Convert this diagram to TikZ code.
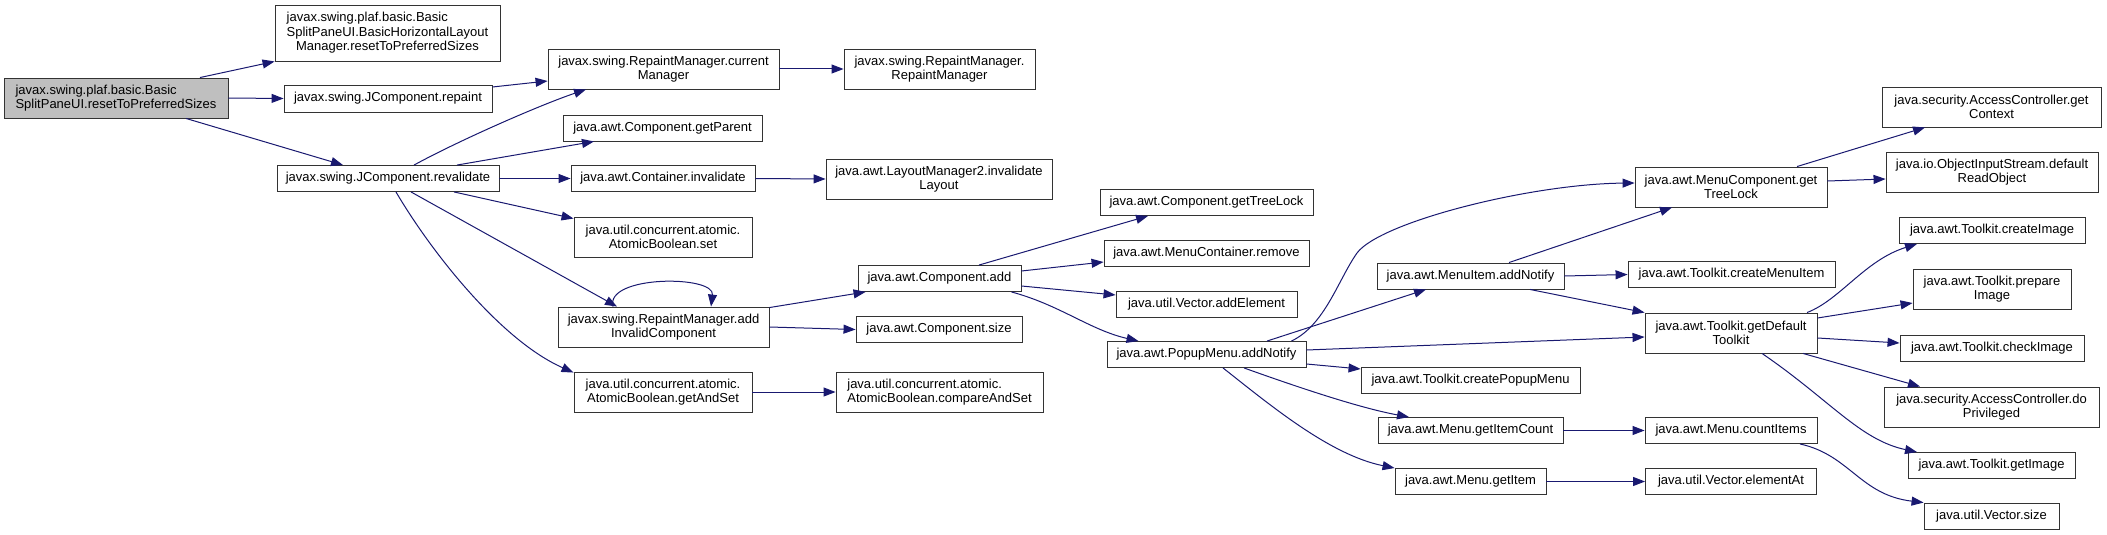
\documentclass[tikz,border=0pt]{standalone}
\usepackage{fontspec}
\setmainfont{Liberation Sans}
\usetikzlibrary{arrows.meta}
\definecolor{xanhdam}{HTML}{191970}
\definecolor{xamgoc}{HTML}{BFBFBF}
\tikzset{
    ham/.style={draw=black!80, line width=0.9pt, fill=white, align=center, inner sep=2pt,
        font=\fontsize{13}{14.5}\selectfont},
    hamgoc/.style={ham, fill=xamgoc, align=left},
    kt/.style 2 args={minimum width=#1pt, minimum height=#2pt},
    goi/.style={draw=xanhdam, line width=1pt, -{Triangle[length=12pt,width=9pt]}}
}
\begin{document}
\begin{tikzpicture}[x=1pt, y=-1pt]
    \useasboundingbox (0,0) rectangle (2107,535);

    % ==================== CÁC HÀM (CỘT 1 - 4) ====================
    \node[hamgoc, kt={224}{40}] (goc) at (116,98) {javax.swing.plaf.basic.Basic\\SplitPaneUI.resetToPreferredSizes};
    \node[ham, kt={225}{56}] (ngang) at (387.5,33) {\rlap{javax.swing.plaf.basic.Basic}\phantom{SplitPaneUI.BasicHorizontalLayout}\\SplitPaneUI.BasicHorizontalLayout\\Manager.resetToPreferredSizes};
    \node[ham, kt={208}{27}] (repaint) at (388,98.5) {javax.swing.JComponent.repaint};
    \node[ham, kt={222}{26}] (revalidate) at (388,178.5) {javax.swing.JComponent.revalidate};

    \node[ham, kt={231}{40}] (curman) at (663.5,69) {javax.swing.RepaintManager.current\\Manager};
    \node[ham, kt={199}{26}] (getparent) at (662.5,128) {java.awt.Component.getParent};
    \node[ham, kt={184}{26}] (cinval) at (663,178.5) {java.awt.Container.invalidate};
    \node[ham, kt={178}{40}] (abset) at (663,237) {java.util.concurrent.atomic.\\AtomicBoolean.set};
    \node[ham, kt={211}{40}] (addinv) at (663.5,327) {javax.swing.RepaintManager.add\\InvalidComponent};
    \node[ham, kt={178}{40}] (abgetset) at (663,392) {java.util.concurrent.atomic.\\AtomicBoolean.getAndSet};

    \node[ham, kt={191}{40}] (rmctor) at (939.5,69) {javax.swing.RepaintManager.\\RepaintManager};
    \node[ham, kt={226}{40}] (lminval) at (939,179) {java.awt.LayoutManager2.invalidate\\Layout};
    \node[ham, kt={163}{26}] (cadd) at (939.5,278.5) {java.awt.Component.add};
    \node[ham, kt={166}{26}] (csize) at (939,329.5) {java.awt.Component.size};
    \node[ham, kt={207}{40}, align=left] (abcas) at (939.5,392) {java.util.concurrent.atomic.\\AtomicBoolean.compareAndSet};

    % ==================== CÁC HÀM (CỘT 5 - 8) ====================
    \node[ham, kt={213}{26}] (ctree) at (1206.5,202.5) {java.awt.Component.getTreeLock};
    \node[ham, kt={205}{26}] (mcremove) at (1206.5,253.5) {java.awt.MenuContainer.remove};
    \node[ham, kt={181}{26}] (vaddel) at (1206.5,304) {java.util.Vector.addElement};
    \node[ham, kt={199}{26}] (popnotify) at (1206.5,354.5) {java.awt.PopupMenu.addNotify};

    \node[ham, kt={187}{26}] (minotify) at (1470.5,276) {java.awt.MenuItem.addNotify};
    \node[ham, kt={219}{26}] (crpopup) at (1470.5,380) {java.awt.Toolkit.createPopupMenu};
    \node[ham, kt={185}{26}] (itemcount) at (1470.5,430.5) {java.awt.Menu.getItemCount};
    \node[ham, kt={151}{26}] (getitem) at (1470.5,481.5) {java.awt.Menu.getItem};

    \node[ham, kt={192}{40}] (mctree) at (1731,187) {java.awt.MenuComponent.get\\TreeLock};
    \node[ham, kt={207}{26}] (crmitem) at (1731.5,274.5) {java.awt.Toolkit.createMenuItem};
    \node[ham, kt={172}{40}] (deftk) at (1731,333) {java.awt.Toolkit.getDefault\\Toolkit};
    \node[ham, kt={172}{26}] (countit) at (1731,430.5) {java.awt.Menu.countItems};
    \node[ham, kt={171}{26}] (elemat) at (1731,481.5) {java.util.Vector.elementAt};

    \node[ham, kt={219}{40}] (getctx) at (1991.5,107) {java.security.AccessController.get\\Context};
    \node[ham, kt={212}{40}] (readobj) at (1992,172) {java.io.ObjectInputStream.default\\ReadObject};
    \node[ham, kt={186}{26}] (crimg) at (1992,230.5) {java.awt.Toolkit.createImage};
    \node[ham, kt={158}{40}] (prepimg) at (1992,289) {java.awt.Toolkit.prepare\\Image};
    \node[ham, kt={184}{26}] (chkimg) at (1992,348) {java.awt.Toolkit.checkImage};
    \node[ham, kt={215}{40}] (doprv) at (1991.5,407) {java.security.AccessController.do\\Privileged};
    \node[ham, kt={167}{26}] (getimg) at (1991.5,465.5) {java.awt.Toolkit.getImage};
    \node[ham, kt={135}{26}] (vsize) at (1991.5,516) {java.util.Vector.size};

    % ==================== CÁC LỜI GỌI ====================
    % Từ hàm gốc
    \draw[goi] ([xshift=84pt]goc.north) -- (ngang.south west);
    \draw[goi] (goc.east) -- (repaint.west);
    \draw[goi] ([xshift=70pt]goc.south) -- ([xshift=-45pt]revalidate.north);
    \draw[goi] ([yshift=11.5pt]repaint.east) -- ([yshift=-12pt]curman.west);

    % Từ revalidate
    \draw[goi] ([xshift=26pt]revalidate.north) .. controls (460,140) and (540,105) .. ([xshift=-77.5pt]curman.south);
    \draw[goi] ([xshift=69pt]revalidate.north) -- ([xshift=-68.5pt]getparent.south);
    \draw[goi] (revalidate.east) -- (cinval.west);
    \draw[goi] ([xshift=66pt]revalidate.south) -- ([yshift=-2pt]abset.north west);
    \draw[goi] ([xshift=23pt]revalidate.south) -- ([xshift=-46.5pt]addinv.north);
    \draw[goi] ([xshift=8pt]revalidate.south) .. controls (430,250) and (500,340) .. ([yshift=-1pt]abgetset.north west);

    % Cột 3 sang cột 4
    \draw[goi] (curman.east) -- (rmctor.west);
    \draw[goi] (cinval.east) -- (lminval.west);
    \draw[goi] ([xshift=-50.5pt]addinv.north) .. controls (605,275) and (715,275) .. ([xshift=47.5pt]addinv.north);
    \draw[goi] ([yshift=-1pt]addinv.north east) -- ([xshift=8pt]cadd.south west);
    \draw[goi] (addinv.east) -- (csize.west);
    \draw[goi] (abgetset.east) -- (abcas.west);

    % Từ Component.add
    \draw[goi] ([xshift=39.5pt]cadd.north) -- ([xshift=-58.5pt]ctree.south);
    \draw[goi] ([yshift=7.5pt]cadd.east) -- ([yshift=-8.5pt]mcremove.west);
    \draw[goi] ([yshift=-7.5pt]cadd.east) -- ([yshift=9pt]vaddel.west);
    \draw[goi] ([xshift=-10pt]cadd.south east) .. controls (1060,305) and (1090,330) .. ([xshift=32pt]popnotify.north west);

    % Từ PopupMenu.addNotify
    \draw[goi] ([xshift=-15pt]popnotify.north east) .. controls (1325,325) and (1338,280) .. (1357,253)
        .. controls (1380,222) and (1530,184) .. ([yshift=4pt]mctree.west);
    \draw[goi] ([xshift=60.5pt]popnotify.north) -- ([xshift=-44.5pt]minotify.south);
    \draw[goi] ([yshift=4.5pt]popnotify.east) -- ([yshift=-4pt]deftk.west);
    \draw[goi] ([yshift=-9.5pt]popnotify.east) -- ([yshift=11pt]crpopup.west);
    \draw[goi] ([xshift=37.5pt]popnotify.south) .. controls (1300,388) and (1360,408) .. ([xshift=-61.5pt]itemcount.north);
    \draw[goi] ([xshift=16.5pt]popnotify.south) .. controls (1270,405) and (1330,455) .. (getitem.north west);

    % Cột 6 sang cột 7
    \draw[goi] ([xshift=38.5pt]minotify.north) -- ([xshift=-59pt]mctree.south);
    \draw[goi] (minotify.east) -- (crmitem.west);
    \draw[goi] ([xshift=59.5pt]minotify.south) -- (deftk.north west);
    \draw[goi] (itemcount.east) -- (countit.west);
    \draw[goi] (getitem.east) -- (elemat.west);

    % Cột 7 sang cột 8
    \draw[goi] ([xshift=66pt]mctree.north) -- ([xshift=-66.5pt]getctx.south);
    \draw[goi] ([yshift=6pt]mctree.east) -- ([yshift=-7pt]readobj.west);
    \draw[goi] ([xshift=76pt]deftk.north) .. controls (1840,300) and (1865,260) .. ([xshift=-75pt]crimg.south);
    \draw[goi] ([yshift=15pt]deftk.east) -- ([yshift=-14pt]prepimg.west);
    \draw[goi] ([yshift=-5pt]deftk.east) -- ([yshift=5pt]chkimg.west);
    \draw[goi] ([xshift=72pt]deftk.south) -- ([xshift=-71.5pt]doprv.north);
    \draw[goi] ([xshift=31pt]deftk.south) .. controls (1830,400) and (1860,440) .. ([xshift=-74.5pt]getimg.north);
    \draw[goi] ([xshift=69pt]countit.south) .. controls (1850,455) and (1860,495) .. (vsize.north west);
\end{tikzpicture}
\end{document}
